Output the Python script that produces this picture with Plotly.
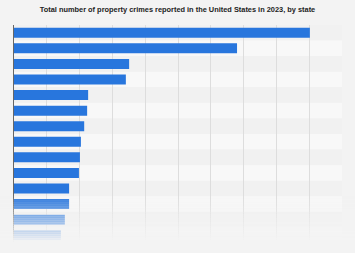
import plotly.graph_objects as go

states = ["California", "Texas", "Florida", "New York", "Washington", "Georgia",
          "Ohio", "North Carolina", "Illinois", "Arizona", "Tennessee",
          "Colorado", "Michigan", "Missouri"]
crimes_thousands = [902, 680, 351, 341, 226, 223, 214, 204, 201, 198, 168, 168, 155, 143]

W, H = 355, 253
BG = "#f3f3f3"
BAND_LIGHT = "#f8f8f8"
BAND_DARK = "#f1f1f1"
BAR = "#2876dd"
m_t, m_b = 25, 10
ph = H - m_t - m_b

fig = go.Figure()
fig.add_trace(go.Bar(
    y=states, x=crimes_thousands, orientation="h",
    marker=dict(color=BAR, line=dict(width=0)),
    width=0.64, hoverinfo="skip",
))

shapes = []
for i, s in enumerate(states):
    shapes.append(dict(type="rect", xref="x domain", yref="y",
                       x0=0, x1=1, y0=i - 0.5, y1=i + 0.5,
                       fillcolor=BAND_LIGHT if i % 2 == 1 else BAND_DARK,
                       line=dict(width=0), layer="below"))

# bottom fade overlay (decoration)
top_px, bot_px = 194, 242
N = 24
for k in range(N):
    p0 = top_px + (bot_px - top_px) * k / N
    p1 = top_px + (bot_px - top_px) * (k + 1) / N
    shapes.append(dict(type="rect", xref="paper", yref="paper",
                       x0=-0.1, x1=1.1,
                       y0=(H - m_b - (p1 + 0.3)) / ph, y1=(H - m_b - p0) / ph,
                       fillcolor=BG, opacity=(k + 0.5) / N,
                       line=dict(width=0), layer="above"))
shapes.append(dict(type="rect", xref="paper", yref="paper",
                   x0=-0.1, x1=1.1, y0=-0.2, y1=(H - m_b - bot_px) / ph,
                   fillcolor=BG, line=dict(width=0), layer="above"))

fig.update_layout(
    width=W, height=H,
    margin=dict(l=14, r=13, t=m_t, b=m_b),
    paper_bgcolor=BG, plot_bgcolor=BG,
    showlegend=False,
    shapes=shapes,
    title=dict(text="Total number of property crimes reported in the United States in 2023, by state",
               x=0.5, xanchor="center", y=1 - 9 / H, yanchor="middle",
               font=dict(family="Liberation Sans, Arial, sans-serif", size=7.4, color="#222222",
                         weight="bold")),
    xaxis=dict(range=[0, 1000], dtick=100, showticklabels=False, ticks="",
               showgrid=True, gridcolor="#dddddd", gridwidth=1,
               zeroline=False, showline=False, fixedrange=True),
    yaxis=dict(autorange="reversed", showticklabels=False, ticks="",
               showgrid=False, zeroline=False,
               showline=True, linecolor="#666666", linewidth=1, fixedrange=True),
)

fig.write_html("out.html")
